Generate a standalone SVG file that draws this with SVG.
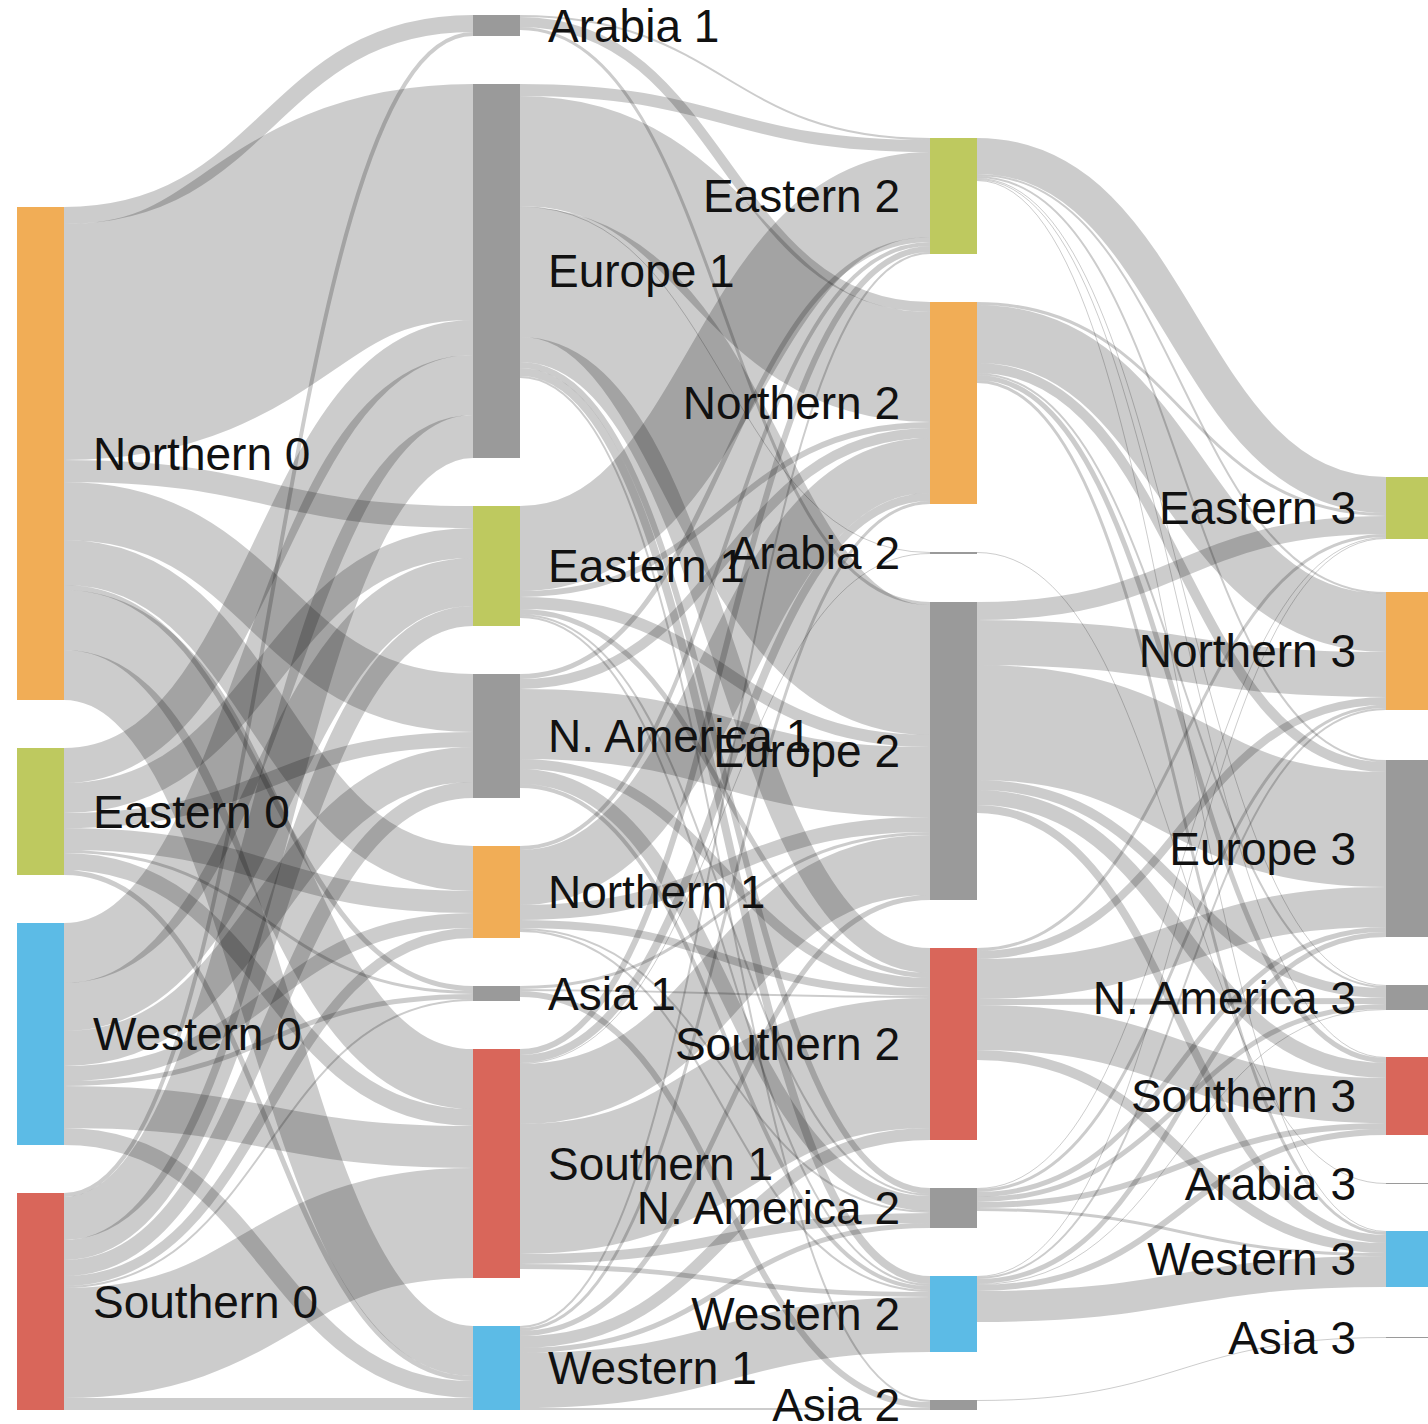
<svg xmlns="http://www.w3.org/2000/svg" width="1428" height="1424" viewBox="0 0 1428 1424">
<style>
.lk{fill:none;stroke:#000;stroke-opacity:0.2}
.n rect{stroke:none}
.or{fill:#f1ad56}.gr{fill:#bec95f}.bl{fill:#5cbbe6}.rd{fill:#d9665a}.gy{fill:#9a9a9a}
text{font-family:"Liberation Sans",Arial,Helvetica,sans-serif;font-size:46px;fill:#111}
.e{text-anchor:end}
</style>
<rect width="1428" height="1424" fill="#fff"/>
<g id="links">
<path class="lk" stroke-width="17" d="M64,215.5C268.5,215.5 268.5,23.5 473,23.5"/>
<path class="lk" stroke-width="236" d="M64,342C268.5,342 268.5,202 473,202"/>
<path class="lk" stroke-width="22" d="M64,471C268.5,471 268.5,517 473,517"/>
<path class="lk" stroke-width="58" d="M64,511C268.5,511 268.5,703 473,703"/>
<path class="lk" stroke-width="45" d="M64,562.5C268.5,562.5 268.5,868.5 473,868.5"/>
<path class="lk" stroke-width="5" d="M64,587.5C268.5,587.5 268.5,988.5 473,988.5"/>
<path class="lk" stroke-width="60" d="M64,620C268.5,620 268.5,1079 473,1079"/>
<path class="lk" stroke-width="50" d="M64,675C268.5,675 268.5,1351 473,1351"/>
<path class="lk" stroke-width="35" d="M64,765.5C268.5,765.5 268.5,337.5 473,337.5"/>
<path class="lk" stroke-width="30" d="M64,798C268.5,798 268.5,543 473,543"/>
<path class="lk" stroke-width="15" d="M64,820.5C268.5,820.5 268.5,739.5 473,739.5"/>
<path class="lk" stroke-width="22" d="M64,839C268.5,839 268.5,902 473,902"/>
<path class="lk" stroke-width="3" d="M64,851.5C268.5,851.5 268.5,992.5 473,992.5"/>
<path class="lk" stroke-width="17" d="M64,861.5C268.5,861.5 268.5,1117.5 473,1117.5"/>
<path class="lk" stroke-width="5" d="M64,872.5C268.5,872.5 268.5,1378.5 473,1378.5"/>
<path class="lk" stroke-width="60" d="M64,953C268.5,953 268.5,385 473,385"/>
<path class="lk" stroke-width="48" d="M64,1007C268.5,1007 268.5,582 473,582"/>
<path class="lk" stroke-width="35" d="M64,1048.5C268.5,1048.5 268.5,764.5 473,764.5"/>
<path class="lk" stroke-width="15" d="M64,1073.5C268.5,1073.5 268.5,920.5 473,920.5"/>
<path class="lk" stroke-width="5" d="M64,1083.5C268.5,1083.5 268.5,996.5 473,996.5"/>
<path class="lk" stroke-width="42" d="M64,1107C268.5,1107 268.5,1147 473,1147"/>
<path class="lk" stroke-width="17" d="M64,1136.5C268.5,1136.5 268.5,1389.5 473,1389.5"/>
<path class="lk" stroke-width="4" d="M64,1195C268.5,1195 268.5,34 473,34"/>
<path class="lk" stroke-width="43" d="M64,1218.5C268.5,1218.5 268.5,436.5 473,436.5"/>
<path class="lk" stroke-width="20" d="M64,1250C268.5,1250 268.5,616 473,616"/>
<path class="lk" stroke-width="16" d="M64,1268C268.5,1268 268.5,790 473,790"/>
<path class="lk" stroke-width="10" d="M64,1281C268.5,1281 268.5,933 473,933"/>
<path class="lk" stroke-width="2" d="M64,1287C268.5,1287 268.5,1000 473,1000"/>
<path class="lk" stroke-width="110" d="M64,1343C268.5,1343 268.5,1223 473,1223"/>
<path class="lk" stroke-width="12" d="M64,1404C268.5,1404 268.5,1404 473,1404"/>

<path class="lk" stroke-width="2" d="M520,16C725,16 725,139 930,139"/>
<path class="lk" stroke-width="10" d="M520,22C725,22 725,307 930,307"/>
<path class="lk" stroke-width="3" d="M520,28.5C725,28.5 725,603.5 930,603.5"/>
<path class="lk" stroke-width="12" d="M520,90C725,90 725,146 930,146"/>
<path class="lk" stroke-width="110" d="M520,151C725,151 725,367 930,367"/>
<path class="lk" stroke-width="1" d="M520,206.5C725,206.5 725,552.5 930,552.5"/>
<path class="lk" stroke-width="130" d="M520,272C725,272 725,670 930,670"/>
<path class="lk" stroke-width="25" d="M520,349.5C725,349.5 725,960.5 930,960.5"/>
<path class="lk" stroke-width="6" d="M520,365C725,365 725,1191 930,1191"/>
<path class="lk" stroke-width="8" d="M520,372C725,372 725,1280 930,1280"/>
<path class="lk" stroke-width="2" d="M520,377C725,377 725,1401 930,1401"/>
<path class="lk" stroke-width="85" d="M520,548.5C725,548.5 725,194.5 930,194.5"/>
<path class="lk" stroke-width="6" d="M520,594C725,594 725,425 930,425"/>
<path class="lk" stroke-width="12" d="M520,603C725,603 725,741 930,741"/>
<path class="lk" stroke-width="5" d="M520,611.5C725,611.5 725,975.5 930,975.5"/>
<path class="lk" stroke-width="2" d="M520,615C725,615 725,1195 930,1195"/>
<path class="lk" stroke-width="2" d="M520,617C725,617 725,1285 930,1285"/>
<path class="lk" stroke-width="5" d="M520,676.5C725,676.5 725,239.5 930,239.5"/>
<path class="lk" stroke-width="10" d="M520,684C725,684 725,433 930,433"/>
<path class="lk" stroke-width="70" d="M520,724C725,724 725,782 930,782"/>
<path class="lk" stroke-width="10" d="M520,764C725,764 725,983 930,983"/>
<path class="lk" stroke-width="15" d="M520,776.5C725,776.5 725,1203.5 930,1203.5"/>
<path class="lk" stroke-width="4" d="M520,786C725,786 725,1288 930,1288"/>
<path class="lk" stroke-width="4" d="M520,848C725,848 725,244 930,244"/>
<path class="lk" stroke-width="55" d="M520,877.5C725,877.5 725,465.5 930,465.5"/>
<path class="lk" stroke-width="15" d="M520,912.5C725,912.5 725,824.5 930,824.5"/>
<path class="lk" stroke-width="8" d="M520,924C725,924 725,992 930,992"/>
<path class="lk" stroke-width="2" d="M520,929C725,929 725,1212 930,1212"/>
<path class="lk" stroke-width="2" d="M520,931C725,931 725,1291 930,1291"/>
<path class="lk" stroke-width="3" d="M520,987.5C725,987.5 725,833.5 930,833.5"/>
<path class="lk" stroke-width="2" d="M520,990C725,990 725,997 930,997"/>
<path class="lk" stroke-width="6" d="M520,994C725,994 725,1405 930,1405"/>
<path class="lk" stroke-width="6" d="M520,1052C725,1052 725,249 930,249"/>
<path class="lk" stroke-width="8" d="M520,1059C725,1059 725,497 930,497"/>
<path class="lk" stroke-width="1" d="M520,1063.5C725,1063.5 725,553.5 930,553.5"/>
<path class="lk" stroke-width="60" d="M520,1094C725,1094 725,865 930,865"/>
<path class="lk" stroke-width="130" d="M520,1189C725,1189 725,1063 930,1063"/>
<path class="lk" stroke-width="10" d="M520,1259C725,1259 725,1218 930,1218"/>
<path class="lk" stroke-width="5" d="M520,1266.5C725,1266.5 725,1294.5 930,1294.5"/>
<path class="lk" stroke-width="2" d="M520,1327C725,1327 725,253 930,253"/>
<path class="lk" stroke-width="3" d="M520,1329.5C725,1329.5 725,502.5 930,502.5"/>
<path class="lk" stroke-width="5" d="M520,1333.5C725,1333.5 725,897.5 930,897.5"/>
<path class="lk" stroke-width="12" d="M520,1342C725,1342 725,1134 930,1134"/>
<path class="lk" stroke-width="5" d="M520,1350.5C725,1350.5 725,1225.5 930,1225.5"/>
<path class="lk" stroke-width="55" d="M520,1380.5C725,1380.5 725,1324.5 930,1324.5"/>
<path class="lk" stroke-width="2" d="M520,1409C725,1409 725,1409 930,1409"/>

<path class="lk" stroke-width="36" d="M977,156C1181.5,156 1181.5,495 1386,495"/>
<path class="lk" stroke-width="2" d="M977,175C1181.5,175 1181.5,593 1386,593"/>
<path class="lk" stroke-width="2" d="M977,177C1181.5,177 1181.5,761 1386,761"/>
<path class="lk" stroke-width="1" d="M977,178.5C1181.5,178.5 1181.5,985.5 1386,985.5"/>
<path class="lk" stroke-width="1" d="M977,179.5C1181.5,179.5 1181.5,1057.5 1386,1057.5"/>
<path class="lk" stroke-width="1" d="M977,180.5C1181.5,180.5 1181.5,1231.5 1386,1231.5"/>
<path class="lk" stroke-width="3" d="M977,303.5C1181.5,303.5 1181.5,514.5 1386,514.5"/>
<path class="lk" stroke-width="58" d="M977,334C1181.5,334 1181.5,623 1386,623"/>
<path class="lk" stroke-width="10" d="M977,368C1181.5,368 1181.5,767 1386,767"/>
<path class="lk" stroke-width="2" d="M977,374C1181.5,374 1181.5,987 1386,987"/>
<path class="lk" stroke-width="5" d="M977,377.5C1181.5,377.5 1181.5,1060.5 1386,1060.5"/>
<path class="lk" stroke-width="3" d="M977,381.5C1181.5,381.5 1181.5,1233.5 1386,1233.5"/>
<path class="lk" stroke-width="1" d="M977,552.5C1181.5,552.5 1181.5,1183.5 1386,1183.5"/>
<path class="lk" stroke-width="18" d="M977,611C1181.5,611 1181.5,525 1386,525"/>
<path class="lk" stroke-width="45" d="M977,642.5C1181.5,642.5 1181.5,674.5 1386,674.5"/>
<path class="lk" stroke-width="115" d="M977,722.5C1181.5,722.5 1181.5,829.5 1386,829.5"/>
<path class="lk" stroke-width="10" d="M977,785C1181.5,785 1181.5,993 1386,993"/>
<path class="lk" stroke-width="15" d="M977,797.5C1181.5,797.5 1181.5,1070.5 1386,1070.5"/>
<path class="lk" stroke-width="8" d="M977,809C1181.5,809 1181.5,1239 1386,1239"/>
<path class="lk" stroke-width="3" d="M977,949.5C1181.5,949.5 1181.5,535.5 1386,535.5"/>
<path class="lk" stroke-width="8" d="M977,955C1181.5,955 1181.5,701 1386,701"/>
<path class="lk" stroke-width="40" d="M977,979C1181.5,979 1181.5,907 1386,907"/>
<path class="lk" stroke-width="6" d="M977,1002C1181.5,1002 1181.5,1001 1386,1001"/>
<path class="lk" stroke-width="45" d="M977,1027.5C1181.5,1027.5 1181.5,1100.5 1386,1100.5"/>
<path class="lk" stroke-width="10" d="M977,1055C1181.5,1055 1181.5,1248 1386,1248"/>
<path class="lk" stroke-width="1" d="M977,1188.5C1181.5,1188.5 1181.5,537.5 1386,537.5"/>
<path class="lk" stroke-width="3" d="M977,1190.5C1181.5,1190.5 1181.5,706.5 1386,706.5"/>
<path class="lk" stroke-width="5" d="M977,1194.5C1181.5,1194.5 1181.5,929.5 1386,929.5"/>
<path class="lk" stroke-width="5" d="M977,1199.5C1181.5,1199.5 1181.5,1006.5 1386,1006.5"/>
<path class="lk" stroke-width="6" d="M977,1205C1181.5,1205 1181.5,1126 1386,1126"/>
<path class="lk" stroke-width="3" d="M977,1209.5C1181.5,1209.5 1181.5,1254.5 1386,1254.5"/>
<path class="lk" stroke-width="1" d="M977,1276.5C1181.5,1276.5 1181.5,538.5 1386,538.5"/>
<path class="lk" stroke-width="2" d="M977,1278C1181.5,1278 1181.5,709 1386,709"/>
<path class="lk" stroke-width="5" d="M977,1281.5C1181.5,1281.5 1181.5,934.5 1386,934.5"/>
<path class="lk" stroke-width="1" d="M977,1284.5C1181.5,1284.5 1181.5,1009.5 1386,1009.5"/>
<path class="lk" stroke-width="6" d="M977,1288C1181.5,1288 1181.5,1132 1386,1132"/>
<path class="lk" stroke-width="31" d="M977,1306.5C1181.5,1306.5 1181.5,1271.5 1386,1271.5"/>
<path class="lk" stroke-width="1" d="M977,1400.5C1181.5,1400.5 1181.5,1337.5 1386,1337.5"/>
</g>

<g id="northern0" class="n"><rect class="or" x="17" y="207" width="47" height="493"/><text x="93" y="470">Northern 0</text></g>
<g id="eastern0" class="n"><rect class="gr" x="17" y="748" width="47" height="127"/><text x="93" y="828">Eastern 0</text></g>
<g id="western0" class="n"><rect class="bl" x="17" y="923" width="47" height="222"/><text x="93" y="1050">Western 0</text></g>
<g id="southern0" class="n"><rect class="rd" x="17" y="1193" width="47" height="217"/><text x="93" y="1318">Southern 0</text></g>

<g id="arabia1" class="n"><rect class="gy" x="473" y="15" width="47" height="21"/><text x="548" y="42">Arabia 1</text></g>
<g id="europe1" class="n"><rect class="gy" x="473" y="84" width="47" height="374"/><text x="548" y="287">Europe 1</text></g>
<g id="eastern1" class="n"><rect class="gr" x="473" y="506" width="47" height="120"/><text x="548" y="582">Eastern 1</text></g>
<g id="namerica1" class="n"><rect class="gy" x="473" y="674" width="47" height="124"/><text x="548" y="752">N. America 1</text></g>
<g id="northern1" class="n"><rect class="or" x="473" y="846" width="47" height="92"/><text x="548" y="908">Northern 1</text></g>
<g id="asia1" class="n"><rect class="gy" x="473" y="986" width="47" height="15"/><text x="548" y="1010">Asia 1</text></g>
<g id="southern1" class="n"><rect class="rd" x="473" y="1049" width="47" height="229"/><text x="548" y="1180">Southern 1</text></g>
<g id="western1" class="n"><rect class="bl" x="473" y="1326" width="47" height="84"/><text x="548" y="1384">Western 1</text></g>

<g id="eastern2" class="n"><rect class="gr" x="930" y="138" width="47" height="116"/><text class="e" x="900" y="212">Eastern 2</text></g>
<g id="northern2" class="n"><rect class="or" x="930" y="302" width="47" height="202"/><text class="e" x="900" y="419">Northern 2</text></g>
<g id="arabia2" class="n"><rect class="gy" x="930" y="552" width="47" height="2"/><text class="e" x="900" y="569">Arabia 2</text></g>
<g id="europe2" class="n"><rect class="gy" x="930" y="602" width="47" height="298"/><text class="e" x="900" y="767">Europe 2</text></g>
<g id="southern2" class="n"><rect class="rd" x="930" y="948" width="47" height="192"/><text class="e" x="900" y="1060">Southern 2</text></g>
<g id="namerica2" class="n"><rect class="gy" x="930" y="1188" width="47" height="40"/><text class="e" x="900" y="1224">N. America 2</text></g>
<g id="western2" class="n"><rect class="bl" x="930" y="1276" width="47" height="76"/><text class="e" x="900" y="1330">Western 2</text></g>
<g id="asia2" class="n"><rect class="gy" x="930" y="1400" width="47" height="10"/><text class="e" x="900" y="1421">Asia 2</text></g>

<g id="eastern3" class="n"><rect class="gr" x="1386" y="477" width="47" height="62"/><text class="e" x="1356" y="524">Eastern 3</text></g>
<g id="northern3" class="n"><rect class="or" x="1386" y="592" width="47" height="118"/><text class="e" x="1356" y="667">Northern 3</text></g>
<g id="europe3" class="n"><rect class="gy" x="1386" y="760" width="47" height="177"/><text class="e" x="1356" y="865">Europe 3</text></g>
<g id="namerica3" class="n"><rect class="gy" x="1386" y="985" width="47" height="25"/><text class="e" x="1356" y="1014">N. America 3</text></g>
<g id="southern3" class="n"><rect class="rd" x="1386" y="1057" width="47" height="78"/><text class="e" x="1356" y="1112">Southern 3</text></g>
<g id="arabia3" class="n"><rect class="gy" x="1386" y="1183" width="47" height="1"/><text class="e" x="1356" y="1200">Arabia 3</text></g>
<g id="western3" class="n"><rect class="bl" x="1386" y="1231" width="47" height="56"/><text class="e" x="1356" y="1275">Western 3</text></g>
<g id="asia3" class="n"><rect class="gy" x="1386" y="1337" width="47" height="1"/><text class="e" x="1356" y="1354">Asia 3</text></g>
</svg>
